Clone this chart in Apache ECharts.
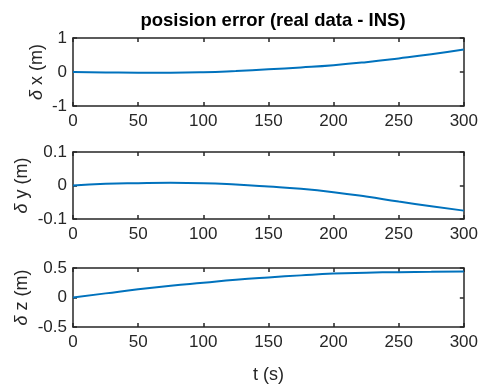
<!DOCTYPE html>
<html>
<head>
<meta charset="utf-8">
<script src="https://cdn.jsdelivr.net/npm/echarts@6/dist/echarts.min.js"></script>
<style>
  html, body { margin: 0; padding: 0; background: #fff; }
  #chart { width: 481px; height: 385px; }
</style>
</head>
<body>
<div id="chart"></div>
<script>
// time axis (s)
const tValues = [0, 25, 50, 75, 100, 125, 150, 175, 200, 225, 250, 275, 300]
// position errors (m)
const dxValues = [0, -0.012, -0.022, -0.022, -0.008, 0.03, 0.08, 0.135, 0.2, 0.29, 0.4, 0.52, 0.66]
const dyValues = [0, 0.005, 0.007, 0.008, 0.007, 0.003, -0.003, -0.01, -0.02, -0.033, -0.048, -0.062, -0.075]
const dzValues = [0, 0.07, 0.14, 0.2, 0.25, 0.3, 0.34, 0.375, 0.405, 0.42, 0.43, 0.435, 0.44]

const panels = [
  { label: 'x', data: dxValues, min: -1, max: 1, interval: 1, top: 38, height: 68, gap: 27 },
  { label: 'y', data: dyValues, min: -0.1, max: 0.1, interval: 0.1, top: 152, height: 67, gap: 42 },
  { label: 'z', data: dzValues, min: -0.5, max: 0.5, interval: 0.5, top: 268, height: 66, gap: 42 }
]

const txt = '#262626'
const font = 'Liberation Sans, Arial, sans-serif'

const chart = echarts.init(document.getElementById('chart'))

const grid = []
const xAxis = []
const yAxis = []
const series = []

panels.forEach((p, i) => {
  grid.push({ left: 73, width: 393, top: p.top, height: p.height })
  // bottom x axis with labels
  xAxis.push({
    type: 'value', gridIndex: i, min: 0, max: 300, interval: 50, position: 'bottom',
    axisLine: { onZero: false, lineStyle: { color: txt, width: 1.5 } },
    axisTick: { inside: true, length: 4, lineStyle: { color: txt, width: 1.5 } },
    axisLabel: { color: txt, fontSize: 17, fontFamily: font, margin: 7 },
    splitLine: { show: false },
    name: i === 2 ? 't (s)' : '', nameLocation: 'middle', nameGap: 39, nameMoveOverlap: false,
    nameTextStyle: { color: txt, fontSize: 18, fontFamily: font }
  })
  // top x axis (box)
  xAxis.push({
    type: 'value', gridIndex: i, min: 0, max: 300, interval: 50, position: 'top',
    axisLine: { onZero: false, lineStyle: { color: txt, width: 1.5 } },
    axisTick: { inside: true, length: 4, lineStyle: { color: txt, width: 1.5 } },
    axisLabel: { show: false }, splitLine: { show: false }
  })
  // left y axis with labels
  yAxis.push({
    type: 'value', gridIndex: i, min: p.min, max: p.max, interval: p.interval, position: 'left',
    axisLine: { show: true, onZero: false, lineStyle: { color: txt, width: 1.5 } },
    axisTick: { show: true, inside: true, length: 4, lineStyle: { color: txt, width: 1.5 } },
    axisLabel: { color: txt, fontSize: 17, fontFamily: font, margin: 6,
      formatter: v => String(Math.round(v * 10) / 10) },
    splitLine: { show: false },
    name: '{d|δ} ' + p.label + ' (m)', nameLocation: 'middle', nameGap: p.gap, nameMoveOverlap: false,
    nameTextStyle: { color: txt, fontSize: 18, fontFamily: font,
      rich: { d: { fontStyle: 'italic', fontSize: 18, fontFamily: font, color: txt } } }
  })
  // right y axis (box)
  yAxis.push({
    type: 'value', gridIndex: i, min: p.min, max: p.max, interval: p.interval, position: 'right',
    axisLine: { show: true, onZero: false, lineStyle: { color: txt, width: 1.5 } },
    axisTick: { show: true, inside: true, length: 4, lineStyle: { color: txt, width: 1.5 } },
    axisLabel: { show: false }, splitLine: { show: false }
  })
  series.push({
    type: 'line', xAxisIndex: i * 2, yAxisIndex: i * 2, smooth: 0.5, symbol: 'none',
    lineStyle: { color: '#0072BD', width: 2 },
    data: tValues.map((t, k) => [t, p.data[k]])
  })
})

chart.setOption({
  animation: false,
  title: {
    text: 'posision error (real data - INS)', left: 268, top: 6, textAlign: 'center',
    textStyle: { color: '#000', fontSize: 18.5, fontWeight: 'bold', fontFamily: font }
  },
  grid,
  xAxis,
  yAxis,
  series
})
</script>
</body>
</html>
